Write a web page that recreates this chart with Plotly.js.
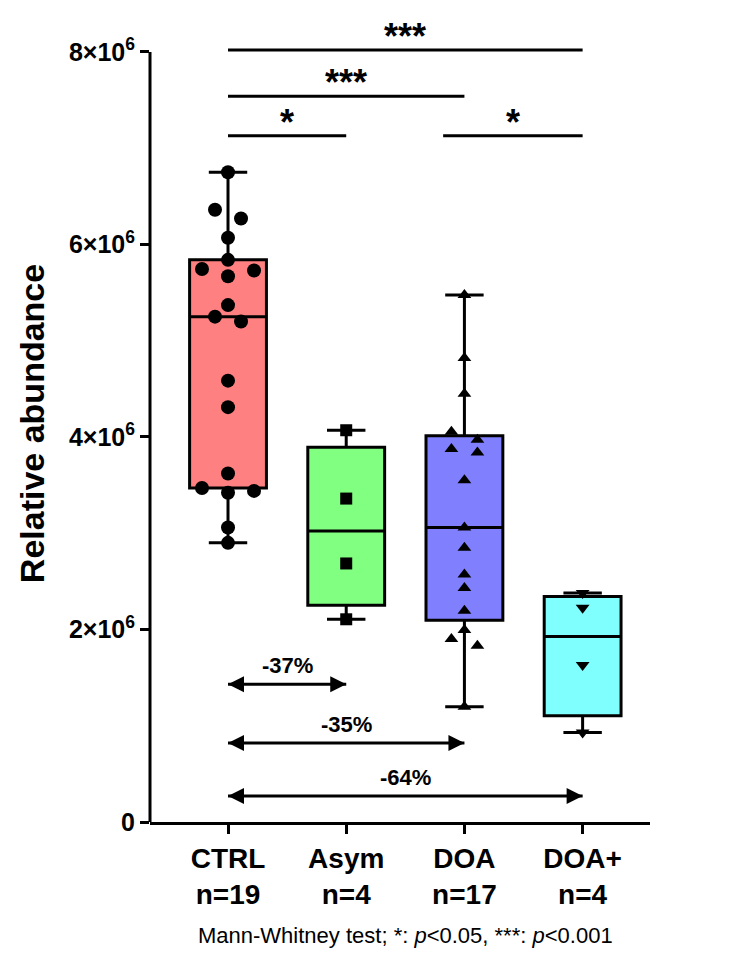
<!DOCTYPE html>
<html>
<head>
<meta charset="utf-8">
<script src="https://cdn.plot.ly/plotly-3.0.1.min.js"></script>
<style>html,body{margin:0;padding:0;background:#fff;}</style>
</head>
<body>
<div id="chart" style="width:744px;height:964px;"></div>
<script>
// ---------------- data ----------------
const categories = ['CTRL', 'Asym', 'DOA', 'DOA+'];
const ctrlValues = [6.75e6, 6.36e6, 6.27e6, 6.07e6, 5.84e6, 5.745e6, 5.73e6, 5.67e6, 5.37e6, 5.25e6,
                    5.20e6, 4.585e6, 4.31e6, 3.62e6, 3.47e6, 3.44e6, 3.42e6, 3.06e6, 2.90e6];
const asymValues = [4.07e6, 3.36e6, 2.686e6, 2.106e6];
const doaValues = [5.475e6, 4.82e6, 4.45e6, 4.055e6, 3.97e6, 3.875e6, 3.84e6, 3.55e6, 3.06e6,
                   2.85e6, 2.57e6, 2.43e6, 2.195e6, 1.995e6, 1.90e6, 1.83e6, 1.198e6];
const doaPlusValues = [2.38e6, 2.226e6, 1.63e6, 0.93e6];
const yTickVals = [0, 2e6, 4e6, 6e6, 8e6];
const yTickText = ['0', '2×10<sup>6</sup>', '4×10<sup>6</sup>', '6×10<sup>6</sup>', '8×10<sup>6</sup>'];
const sigPairs = [[0, 1], [2, 3], [0, 2], [0, 3]];
const sigLabels = ['*', '*', '***', '***'];
const changePairs = [[0, 1], [0, 2], [0, 3]];
const changeLabels = ['-37%', '-35%', '-64%'];
const footnote = 'Mann-Whitney test; *: <i>p</i>&lt;0.05, ***: <i>p</i>&lt;0.001';

// ---------------- style ----------------
const groups = [ctrlValues, asymValues, doaValues, doaPlusValues];
const fills = ['#FF8080', '#80FF80', '#8080FF', '#80FFFF'];
const symbols = ['circle', 'square', 'triangle-up', 'triangle-down'];
const symSizes = [14, 12, 12, 12];
const FONT = 'Liberation Sans, Arial, Helvetica, sans-serif';

function quantile(sortedAsc, p) {
  const n = sortedAsc.length;
  const pos = (n + 1) * p;
  if (pos <= 1) return sortedAsc[0];
  if (pos >= n) return sortedAsc[n - 1];
  const lo = Math.floor(pos), frac = pos - lo;
  return sortedAsc[lo - 1] + frac * (sortedAsc[lo] - sortedAsc[lo - 1]);
}

// simple swarm: neighbours closer than a threshold are spread sideways
function swarmOffsets(values, gap) {
  const idx = values.map((v, i) => i).sort((a, b) => values[b] - values[a]);
  const offs = new Array(values.length).fill(0);
  let cluster = [];
  const flush = () => {
    const k = cluster.length;
    let pattern;
    if (k === 1) pattern = [0];
    else if (k === 2) pattern = [-1, 1];
    else if (k === 3) pattern = [-2, 2, 0];
    else pattern = cluster.map((_, j) => (j - (k - 1) / 2) * 2);
    cluster.forEach((ii, j) => { offs[ii] = pattern[j]; });
    cluster = [];
  };
  idx.forEach((ii, j) => {
    if (j > 0 && values[idx[j - 1]] - values[ii] >= gap) flush();
    cluster.push(ii);
  });
  flush();
  return offs;
}

const traces = [];
groups.forEach((vals, i) => {
  const s = vals.slice().sort((a, b) => a - b);
  traces.push({
    type: 'box', x: [i],
    q1: [quantile(s, 0.25)], median: [quantile(s, 0.5)], q3: [quantile(s, 0.75)],
    lowerfence: [s[0]], upperfence: [s[s.length - 1]],
    width: 0.65, whiskerwidth: 0.5, boxpoints: false,
    fillcolor: fills[i], line: {color: '#000', width: 3},
    hoverinfo: 'skip', showlegend: false
  });
});
const STEP = 0.11;
groups.forEach((vals, i) => {
  const offs = swarmOffsets(vals, 0.092e6);
  traces.push({
    type: 'scatter', mode: 'markers',
    x: vals.map((v, j) => i + offs[j] * STEP), y: vals,
    marker: {symbol: symbols[i], size: symSizes[i], color: '#000', line: {width: 0}},
    cliponaxis: false, showlegend: false, hoverinfo: 'y'
  });
});

// change arrows (double-headed) as line traces with arrow markers at both ends
const chgY = [1.43e6, 0.82e6, 0.27e6];
changePairs.forEach((p, k) => {
  traces.push({
    type: 'scatter', mode: 'lines+markers',
    x: [p[0], p[1]], y: [chgY[k], chgY[k]],
    line: {color: '#000', width: 3},
    marker: {symbol: ['arrow-left', 'arrow-right'], size: 16, color: '#000', line: {width: 0}},
    cliponaxis: false, showlegend: false, hoverinfo: 'skip'
  });
});

const shapes = [{
  type: 'line', xref: 'paper', x0: 0, x1: 0, yref: 'y', y0: 0, y1: yTickVals[yTickVals.length - 1],
  line: {color: '#000', width: 3}
}];
const annotations = [];
// significance bars
const sigY = [7.13e6, 7.13e6, 7.54e6, 8.02e6];
const sigStartInset = [0, 0.18, 0, 0];
sigPairs.forEach((p, k) => {
  const x0 = p[0] - sigStartInset[k], x1 = p[1];
  shapes.push({type: 'line', xref: 'x', yref: 'y', x0: x0, x1: x1, y0: sigY[k], y1: sigY[k],
               line: {color: '#000', width: 3}});
  annotations.push({xref: 'x', yref: 'y', x: (x0 + x1) / 2, y: sigY[k], text: sigLabels[k],
                    showarrow: false, yanchor: 'bottom', yshift: -9,
                    font: {family: FONT, size: 36, weight: 'bold', color: '#000'}});
});
changePairs.forEach((p, k) => {
  annotations.push({xref: 'x', yref: 'y', x: (p[0] + p[1]) / 2, y: chgY[k], text: changeLabels[k],
                    showarrow: false, yanchor: 'bottom', yshift: 4,
                    font: {family: FONT, size: 22, weight: 'bold', color: '#000'}});
});
annotations.push({xref: 'paper', yref: 'paper', x: 0.51, y: -0.142, xanchor: 'center', yanchor: 'middle',
                  text: footnote, showarrow: false, font: {family: FONT, size: 22, color: '#000'}});

const layout = {
  width: 744, height: 964,
  margin: {l: 150, r: 94, t: 25, b: 142},
  paper_bgcolor: '#fff', plot_bgcolor: '#fff',
  font: {family: FONT, color: '#000'},
  showlegend: false,
  xaxis: {
    range: [-0.66, 3.57], tickvals: categories.map((c, i) => i),
    ticktext: categories.map((c, i) => c + '<br>n=' + groups[i].length),
    ticks: 'outside', ticklen: 9, tickwidth: 3, tickcolor: '#000',
    showline: true, linewidth: 3, linecolor: '#000',
    showgrid: false, zeroline: false,
    tickfont: {family: FONT, size: 28, weight: 'bold', color: '#000'}
  },
  yaxis: {
    range: [0, 8.28e6], tickvals: yTickVals, ticktext: yTickText,
    ticks: 'outside', ticklen: 9, tickwidth: 3, tickcolor: '#000',
    showline: false, showgrid: false, zeroline: false,
    tickfont: {family: FONT, size: 25, weight: 'bold', color: '#000'},
    title: {text: 'Relative abundance', standoff: 14,
            font: {family: FONT, size: 34, weight: 'bold', color: '#000'}}
  },
  shapes: shapes, annotations: annotations
};
Plotly.newPlot('chart', traces, layout, {displayModeBar: false, staticPlot: true});
</script>
</body>
</html>
